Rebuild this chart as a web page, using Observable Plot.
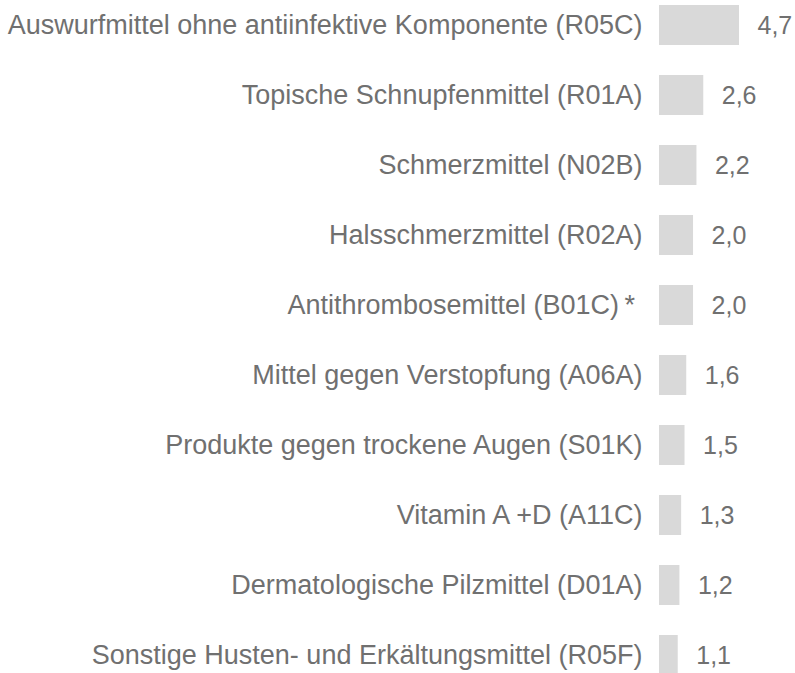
<!DOCTYPE html>
<html>
<head>
<meta charset="utf-8">
<script src="https://cdn.jsdelivr.net/npm/d3@7"></script>
<script src="https://cdn.jsdelivr.net/npm/@observablehq/plot@0.6"></script>
<style>
  html, body { margin: 0; padding: 0; background: #fff; }
  #chart svg { display: block; }
</style>
</head>
<body>
<div id="chart"></div>
<script>
const categories = [
  "Auswurfmittel ohne antiinfektive Komponente (R05C)",
  "Topische Schnupfenmittel (R01A)",
  "Schmerzmittel (N02B)",
  "Halsschmerzmittel (R02A)",
  "Antithrombosemittel (B01C)\u2009*\u00A0",
  "Mittel gegen Verstopfung (A06A)",
  "Produkte gegen trockene Augen (S01K)",
  "Vitamin A +D (A11C)",
  "Dermatologische Pilzmittel (D01A)",
  "Sonstige Husten- und Erkältungsmittel (R05F)"
];
const values = [4.7, 2.6, 2.2, 2.0, 2.0, 1.6, 1.5, 1.3, 1.2, 1.1];
const valueLabels = ["4,7", "2,6", "2,2", "2,0", "2,0", "1,6", "1,5", "1,3", "1,2", "1,1"];

const data = categories.map((c, i) => ({cat: c, value: values[i], label: valueLabels[i]}));

const chart = Plot.plot({
  width: 795,
  height: 673,
  marginLeft: 659,
  marginRight: 56,
  marginTop: 0,
  marginBottom: 0,
  style: {
    fontFamily: "'Liberation Sans', Arial, sans-serif",
    fontWeight: 400,
    color: "#707070",
    background: "#fff",
    overflow: "visible"
  },
  x: {domain: [0, d3.max(values)], axis: null},
  y: {domain: categories, paddingInner: 0.43, paddingOuter: 0.215, range: [-11.7, 692.3], label: null},
  marks: [
    Plot.barX(data, {y: "cat", x: "value", fill: "#d9d9d9"}),
    Plot.axisY({tickSize: 0, tickPadding: 17, fontSize: 27, label: null}),
    Plot.text(data, {y: "cat", x: "value", text: "label", textAnchor: "start", dx: 18, fontSize: 25, fill: "#707070"})
  ]
});
document.getElementById("chart").appendChild(chart);
</script>
</body>
</html>
